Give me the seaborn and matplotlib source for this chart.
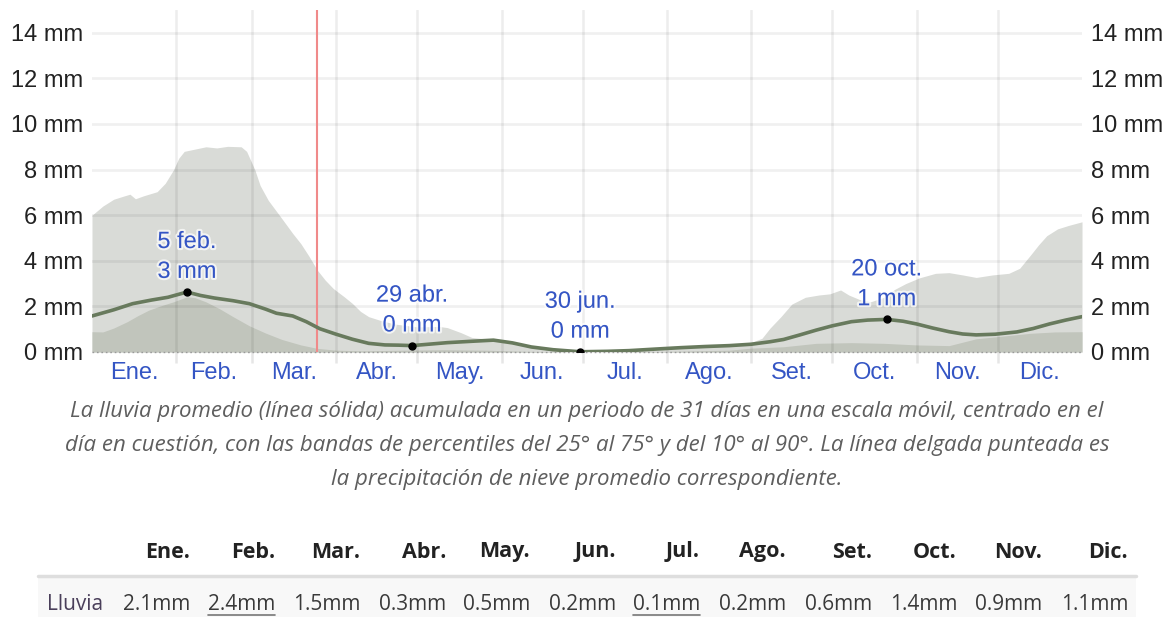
import numpy as np
import matplotlib
matplotlib.use("Agg")
import matplotlib.pyplot as plt
import matplotlib.patheffects as pe
import seaborn as sns

# ---- data: day of year (0-365) and daily rainfall, 31-day moving sum (mm) ----
mean_days = [0, 8, 15, 22, 28, 35, 40, 45, 52, 58, 64, 68, 74, 79, 84, 90, 96, 102,
             108, 113, 118, 125, 131, 140, 148, 155, 162, 170, 180, 190, 198, 208,
             217, 226, 235, 243, 250, 255, 261, 267, 273, 280, 286, 293, 299, 304,
             310, 316, 321, 326, 333, 341, 347, 353, 359, 365]
mean_rain = [1.58, 1.85, 2.12, 2.28, 2.40, 2.63, 2.48, 2.37, 2.25, 2.12, 1.88, 1.70,
             1.58, 1.33, 1.02, 0.78, 0.56, 0.38, 0.31, 0.30, 0.28, 0.35, 0.41, 0.47,
             0.52, 0.40, 0.22, 0.10, 0.01, 0.03, 0.06, 0.13, 0.19, 0.24, 0.28, 0.34,
             0.45, 0.55, 0.75, 0.96, 1.15, 1.33, 1.40, 1.43, 1.35, 1.23, 1.05, 0.89,
             0.79, 0.75, 0.78, 0.88, 1.03, 1.23, 1.40, 1.55]

p90_days = [0, 4, 8, 12, 14, 16, 19, 24, 27, 30, 32, 34, 38, 42, 46, 50, 55, 57, 60,
            62, 65, 70, 74, 77, 80, 83, 86, 89, 93, 96, 99, 102, 107, 112, 120, 128,
            131, 136, 140, 146, 152, 160, 170, 180, 198, 217, 235, 243, 247, 250, 254,
            258, 263, 268, 272, 276, 279, 283, 287, 292, 296, 300, 305, 311, 316, 321,
            326, 332, 338, 342, 346, 349, 352, 356, 360, 365]
p90_rain = [6.0, 6.4, 6.7, 6.85, 6.92, 6.72, 6.85, 7.03, 7.4, 7.98, 8.5, 8.8, 8.9, 9.0,
            8.95, 9.02, 9.0, 8.8, 8.0, 7.3, 6.65, 5.85, 5.2, 4.75, 4.2, 3.6, 3.15, 2.78,
            2.42, 2.13, 1.78, 1.55, 1.36, 1.22, 1.1, 1.12, 1.07, 0.85, 0.64, 0.56, 0.5,
            0.3, 0.15, 0.05, 0.1, 0.22, 0.33, 0.42, 0.6, 1.05, 1.55, 2.1, 2.4, 2.5, 2.55,
            2.72, 2.5, 2.3, 2.2, 2.4, 2.75, 3.0, 3.25, 3.45, 3.48, 3.38, 3.27, 3.38,
            3.45, 3.67, 4.25, 4.7, 5.1, 5.4, 5.55, 5.71]

p75_days = [0, 4, 8, 13, 17, 21, 26, 30, 35, 38, 42, 47, 52, 58, 64, 70, 77, 83, 90,
            100, 115, 130, 145, 160, 180, 210, 235, 243, 255, 267, 280, 292, 304, 316,
            326, 336, 346, 355, 365]
p75_rain = [0.89, 0.88, 1.05, 1.33, 1.6, 1.84, 2.05, 2.2, 2.42, 2.38, 2.2, 1.9, 1.55,
            1.15, 0.83, 0.55, 0.31, 0.16, 0.08, 0.05, 0.08, 0.1, 0.08, 0.03, 0.0, 0.02,
            0.08, 0.17, 0.23, 0.38, 0.41, 0.38, 0.31, 0.28, 0.58, 0.7, 0.82, 0.88, 0.89]

# highlighted extremes: (day, value, date label, value label)
highlights = [(35, 2.63, "5 feb.", "3 mm"),
              (118, 0.28, "29 abr.", "0 mm"),
              (180, 0.01, "30 jun.", "0 mm"),
              (293, 1.43, "20 oct.", "1 mm")]
today_day = 83

months = ["Ene.", "Feb.", "Mar.", "Abr.", "May.", "Jun.",
          "Jul.", "Ago.", "Set.", "Oct.", "Nov.", "Dic."]
month_starts = [0, 31, 59, 90, 120, 151, 181, 212, 243, 273, 304, 334, 365]
y_ticks = [0, 2, 4, 6, 8, 10, 12, 14]

table_label = "Lluvia"
monthly_rain = ["2.1mm", "2.4mm", "1.5mm", "0.3mm", "0.5mm", "0.2mm",
                "0.1mm", "0.2mm", "0.6mm", "1.4mm", "0.9mm", "1.1mm"]
underlined = [1, 6]

caption_lines = [
    "La lluvia promedio (línea sólida) acumulada en un periodo de 31 días en una escala móvil, centrado en el",
    "día en cuestión, con las bandas de percentiles del 25° al 75° y del 10° al 90°. La línea delgada punteada es",
    "la precipitación de nieve promedio correspondiente.",
]

# ---- style ----
sns.set_theme(style="white")
plt.rcParams["font.family"] = ["Liberation Sans", "DejaVu Sans"]
UI_FONT = ["Open Sans", "DejaVu Sans"]

W, H = 1174, 617
fig = plt.figure(figsize=(W / 100, H / 100), dpi=100)
fig.patch.set_facecolor("white")


def fx(px):
    return px / W


def fy(py):
    return 1 - py / H


ax = fig.add_axes([fx(92), fy(352), fx(1082) - fx(92), fy(10) - fy(352)])
ax.set_xlim(0, 365)
ax.set_ylim(0, 15)

OUTER = "#d9dbd7"
INNER = "#c1c5bc"
LINE = "#687a5d"
BLUE = "#3455c4"

ax.fill_between(p90_days, 0, p90_rain, color=OUTER, lw=0, zorder=1)
ax.fill_between(p75_days, 0, p75_rain, color=INNER, lw=0, zorder=1.1)

# grid over the bands, faint
for yv in y_ticks[1:]:
    ax.axhline(yv, color="black", alpha=0.06, lw=2, zorder=1.5)
for d in month_starts[1:-1]:
    ax.axvline(d, color="black", alpha=0.07, lw=1.8, zorder=1.5)

ax.axhline(0, color="#9a9a9a", lw=1, ls=(0, (1.2, 2)), zorder=2, clip_on=False)
ax.axvline(today_day, color="#f08a8a", lw=1.5, zorder=2.5)

sns.lineplot(x=mean_days, y=mean_rain, ax=ax, color=LINE, lw=2.6, sort=False, zorder=3)

for d, v, lab1, lab2 in highlights:
    ax.plot([d], [v], "o", color="black", ms=5, zorder=4)
    halo = [pe.withStroke(linewidth=3, foreground="white", alpha=0.7)]
    ax.annotate(lab2, (d, v), xytext=(0, 14.5), textcoords="offset points",
                ha="center", va="center", fontsize=17, color=BLUE,
                path_effects=halo, zorder=5)
    ax.annotate(lab1, (d, v), xytext=(0, 36), textcoords="offset points",
                ha="center", va="center", fontsize=17, color=BLUE,
                path_effects=halo, zorder=5)

for s in ax.spines.values():
    s.set_visible(False)

ax.set_yticks(y_ticks)
ax.set_yticklabels([f"{t} mm" for t in y_ticks])
ax.tick_params(axis="y", left=False, right=False, length=0, labelleft=True,
               labelright=True, labelsize=17, labelcolor="#222222", pad=6.2)

ax.set_xticks(month_starts[1:-1])
ax.set_xticklabels([])
ax.tick_params(axis="x", which="major", bottom=True, length=8, width=1.8,
               color="#e6e6e6", direction="out")
mids = [(a + b) / 2 for a, b in zip(month_starts[:-1], month_starts[1:])]
ax.set_xticks(mids, minor=True)
ax.set_xticklabels(months, minor=True)
ax.tick_params(axis="x", which="minor", bottom=False, length=0, labelsize=17,
               labelcolor=BLUE, pad=7)
ax.set_xlabel("")
ax.set_ylabel("")

# ---- caption ----
for i, line in enumerate(caption_lines):
    fig.text(fx(587), fy(412 + 34 * i), line, ha="center", va="center",
             fontsize=16, style="italic", color="#5e5e5e", family=UI_FONT)

# ---- summary table ----
col_right = [190, 275, 360, 446, 530, 616, 700, 786, 872, 957, 1042, 1128]
fig.patches.append(plt.Rectangle((fx(38), fy(617)), fx(1136) - fx(38), fy(577) - fy(617),
                                 transform=fig.transFigure, color="#f8f8f8", lw=0))
fig.lines.append(plt.Line2D([fx(38), fx(1136)], [fy(576), fy(576)],
                            transform=fig.transFigure, color="#dedede", lw=2.5))
fig.text(fx(47), fy(604), table_label, ha="left", va="center", fontsize=15,
         color="#4a3f5a", family=UI_FONT)
value_texts = []
for i, (m, v) in enumerate(zip(months, monthly_rain)):
    fig.text(fx(col_right[i]), fy(552), m, ha="right", va="center", fontsize=15.5,
             weight="bold", color="#222222", family=UI_FONT)
    t = fig.text(fx(col_right[i]), fy(604), v, ha="right", va="center", fontsize=15,
                 color="#3a3a3a", family=UI_FONT)
    value_texts.append(t)

fig.canvas.draw()
renderer = fig.canvas.get_renderer()
for i in underlined:
    bb = value_texts[i].get_window_extent(renderer)
    x0, x1 = bb.x0 / W, bb.x1 / W
    fig.lines.append(plt.Line2D([x0, x1], [fy(615), fy(615)], transform=fig.transFigure,
                                color="#777777", lw=1.2))

fig.savefig("out.png", dpi=100, facecolor="white")
